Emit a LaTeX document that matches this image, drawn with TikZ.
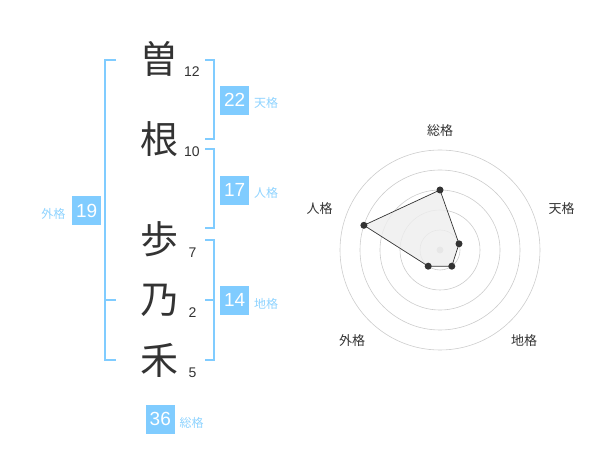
\documentclass[tikz,border=0pt]{standalone}
\usepackage{fontspec}
\setmainfont{Liberation Sans}
\newfontfamily\cjk{Noto Sans CJK JP}
\definecolor{kblue}{HTML}{80CCFF}
\definecolor{klab}{HTML}{8ED3FF}
\definecolor{kdark}{HTML}{333333}
\definecolor{kring}{HTML}{CCCCCC}
\definecolor{kfill}{HTML}{EEEEEE}
\tikzset{
  kanji/.style={inner sep=0pt, text=kdark, font=\cjk\fontsize{38}{38}\selectfont},
  stroke/.style={inner sep=0pt, text=kdark, font=\fontsize{14}{14}\selectfont},
  kbox/.style={fill=kblue, text=white, inner sep=0pt, minimum width=28.5pt, minimum height=29pt, font=\fontsize{19}{19}\selectfont},
  klabel/.style={inner sep=0pt, text=klab, font=\cjk\fontsize{12}{12}\selectfont},
  bracket/.style={draw=kblue, line width=2pt},
  ring/.style={draw=kring, line width=0.6pt},
  rlabel/.style={inner sep=0pt, text=kdark, font=\cjk\fontsize{13}{13}\selectfont},
  vdot/.style={circle, fill=kdark, inner sep=0pt, minimum size=7pt},
}
\begin{document}
\begin{tikzpicture}[x=1pt,y=-1pt]
\useasboundingbox (0,0) rectangle (600,470);
% characters
\node[kanji] (c1) at (159,59) {曽};
\node[kanji] (c2) at (159.5,139) {根};
\node[kanji] (c3) at (159.5,239) {歩};
\node[kanji] (c4) at (159.5,300) {乃};
\node[kanji] (c5) at (159.5,360.5) {禾};
\node[stroke] (n1) at (192,71.7) {12};
\node[stroke] (n2) at (192,152) {10};
\node[stroke] (n3) at (192.5,252.5) {7};
\node[stroke] (n4) at (192.5,313) {2};
\node[stroke] (n5) at (192.5,373) {5};
% brackets
\draw[bracket] (116,60) -- (105,60) -- (105,360) -- (116,360);
\draw[bracket] (105,300) -- (116,300);
\draw[bracket] (205,60) -- (214.3,60) -- (214.3,139.3) -- (205,139.3);
\draw[bracket] (205,149.3) -- (214.3,149.3) -- (214.3,228.5) -- (205,228.5);
\draw[bracket] (205,240) -- (214.3,240) -- (214.3,360) -- (205,360);
\draw[bracket] (205,300) -- (214.3,300);
% boxes
\node[kbox] (b22) at (234.7,100.3) {22};
\node[klabel] (l22) at (266,103) {天格};
\node[kbox] (b17) at (234.7,190.3) {17};
\node[klabel] (l17) at (266,193) {人格};
\node[kbox] (b14) at (234.7,300.3) {14};
\node[klabel] (l14) at (266,303.5) {地格};
\node[kbox] (b19) at (86.7,210.5) {19};
\node[klabel] (l19) at (53.3,213.5) {外格};
\node[kbox] (b36) at (160.3,419.3) {36};
\node[klabel] (l36) at (191.7,422.5) {総格};
% radar
\coordinate (C) at (440,250);
\foreach \r in {20,40,60,80,100} \draw[ring] (C) circle[radius=\r pt];
\fill[kring] (C) circle[radius=3.5pt];
\coordinate (pS) at (440,190);
\coordinate (pT) at (459.0,243.8);
\coordinate (pC) at (451.8,266.2);
\coordinate (pG) at (428.2,266.2);
\coordinate (pJ) at (363.9,225.3);
\filldraw[fill=kfill, fill opacity=0.8, draw=kdark, line width=0.7pt] (pS) -- (pT) -- (pC) -- (pG) -- (pJ) -- cycle;
\foreach \p in {pS,pT,pC,pG,pJ} \node[vdot] at (\p) {};
\node[rlabel] (rS) at (440,130.5) {総格};
\node[rlabel] (rT) at (561.5,208.3) {天格};
\node[rlabel] (rC) at (524,341) {地格};
\node[rlabel] (rG) at (352,341) {外格};
\node[rlabel] (rJ) at (319.5,208.3) {人格};
\end{tikzpicture}
\end{document}
